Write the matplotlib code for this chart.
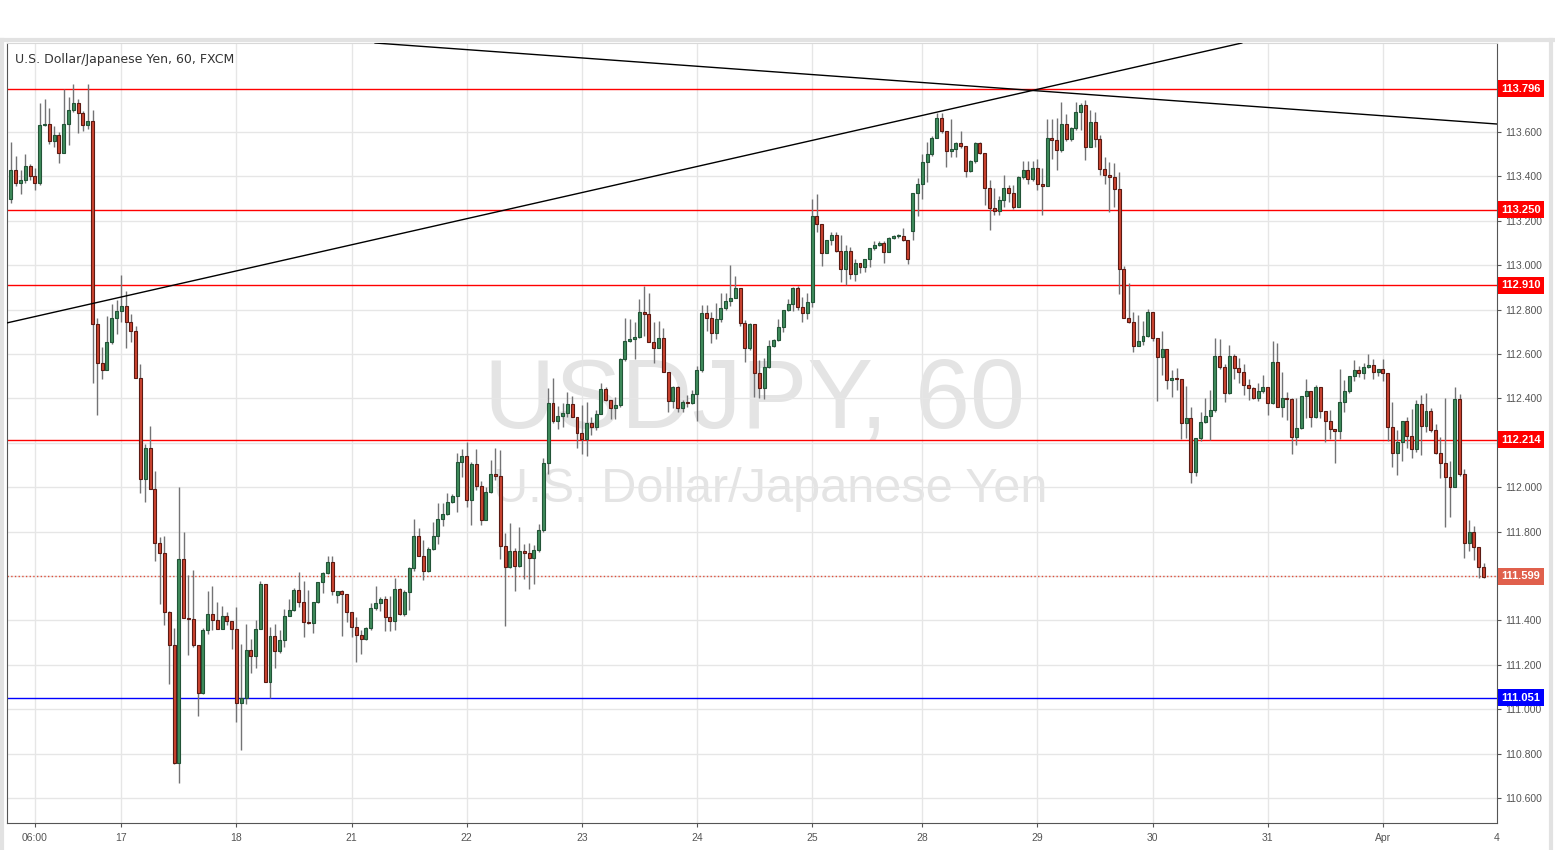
import numpy as np
import matplotlib
matplotlib.use("Agg")
import matplotlib.pyplot as plt
from matplotlib.transforms import blended_transform_factory
from matplotlib.lines import Line2D

# hourly USDJPY candles, first candle = Mar 16 01:00
first_open = 113.30
gap_opens = {69: 111.512, 189: 113.155}   # candle number -> open (when it differs from prev close)

closes = [
    # Mar 16
    113.43, 113.37, 113.382, 113.445, 113.40, 113.37, 113.633, 113.635, 113.56, 113.588, 113.507, 113.637,
    113.698, 113.732, 113.687, 113.633, 113.651, 112.737, 112.56, 112.527, 112.654, 112.76, 112.792,
    # Mar 17
    112.815, 112.744, 112.705, 112.493, 112.038, 112.175, 111.993, 111.747, 111.705, 111.439, 111.29, 110.759,
    111.675, 111.412, 111.408, 111.29, 111.074, 111.357, 111.428, 111.402, 111.362, 111.42, 111.398, 111.36,
    # Mar 18
    111.029, 111.049, 111.267, 111.241, 111.36, 111.564, 111.12, 111.33, 111.264, 111.312, 111.42, 111.447,
    111.537, 111.481, 111.394, 111.387, 111.481, 111.571, 111.612, 111.665, 111.534, 111.532, 111.517, 111.436,
    # Mar 21
    111.372, 111.333, 111.318, 111.364, 111.455, 111.477, 111.495, 111.417, 111.395, 111.54, 111.428, 111.527,
    111.638, 111.78, 111.692, 111.624, 111.722, 111.78, 111.856, 111.88, 111.934, 111.961, 112.115, 112.141,
    # Mar 22
    111.94, 112.105, 112.007, 111.85, 111.977, 112.058, 112.05, 111.735, 111.642, 111.713, 111.647, 111.713,
    111.705, 111.68, 111.717, 111.807, 112.108, 112.378, 112.3, 112.321, 112.336, 112.375, 112.318, 112.246,
    # Mar 23
    112.216, 112.288, 112.273, 112.33, 112.441, 112.393, 112.355, 112.37, 112.577, 112.658, 112.667, 112.675,
    112.787, 112.78, 112.655, 112.628, 112.67, 112.52, 112.389, 112.452, 112.355, 112.385, 112.38, 112.418,
    # Mar 24
    112.527, 112.783, 112.76, 112.693, 112.756, 112.805, 112.838, 112.851, 112.896, 112.738, 112.626, 112.735,
    112.513, 112.446, 112.54, 112.636, 112.663, 112.72, 112.798, 112.825, 112.896, 112.81, 112.783, 112.833,
    # Mar 25
    113.222, 113.184, 113.057, 113.114, 113.136, 113.066, 112.982, 113.065, 112.959, 113.008, 112.993, 113.026,
    113.076, 113.091, 113.098, 113.061, 113.124, 113.131, 113.131, 113.113, 113.026, 113.323, 113.364,
    # Mar 28
    113.463, 113.5, 113.571, 113.661, 113.606, 113.516, 113.522, 113.552, 113.537, 113.426, 113.469, 113.549,
    113.504, 113.349, 113.256, 113.245, 113.293, 113.35, 113.326, 113.263, 113.396, 113.429, 113.387, 113.436,
    # Mar 29
    113.364, 113.358, 113.571, 113.564, 113.519, 113.636, 113.568, 113.616, 113.688, 113.721, 113.534, 113.646,
    113.567, 113.435, 113.405, 113.396, 113.342, 112.981, 112.763, 112.745, 112.637, 112.658, 112.681, 112.787,
    # Mar 30
    112.67, 112.585, 112.621, 112.483, 112.49, 112.487, 112.287, 112.31, 112.07, 112.22, 112.292, 112.321,
    112.348, 112.591, 112.54, 112.423, 112.591, 112.535, 112.52, 112.46, 112.445, 112.40, 112.435, 112.453,
    # Mar 31
    112.378, 112.562, 112.36, 112.40, 112.398, 112.228, 112.265, 112.411, 112.433, 112.315, 112.45, 112.343,
    112.30, 112.261, 112.255, 112.382, 112.433, 112.501, 112.528, 112.516, 112.543, 112.55, 112.52, 112.532,
    # Apr 1
    112.513, 112.273, 112.155, 112.205, 112.298, 112.232, 112.171, 112.375, 112.277, 112.343, 112.258, 112.155,
    112.11, 112.047, 112.002, 112.397, 112.058, 111.75, 111.80, 111.732, 111.642, 111.594,
]

highs = [
    113.553, 113.49, 113.43, 113.50, 113.457, 113.44, 113.732, 113.75, 113.71, 113.625, 113.60, 113.792,
    113.758, 113.815, 113.75, 113.695, 113.815, 113.698, 112.76, 112.632, 112.77, 112.827, 112.842,
    112.955, 112.882, 112.78, 112.726, 112.555, 112.194, 112.275, 112.073, 111.774, 111.78, 111.44, 111.364,
    111.999, 111.798, 111.604, 111.627, 111.29, 111.364, 111.532, 111.555, 111.483, 111.465, 111.437, 111.398,
    111.459, 111.293, 111.383, 111.316, 111.402, 111.579, 111.564, 111.372, 111.384, 111.357, 111.45, 111.495,
    111.544, 111.618, 111.577, 111.537, 111.481, 111.571, 111.618, 111.69, 111.69, 111.532, 111.537, 111.517,
    111.436, 111.414, 111.357, 111.372, 111.477, 111.555, 111.507, 111.51, 111.51, 111.59, 111.545, 111.537,
    111.642, 111.856, 111.815, 111.763, 111.73, 111.845, 111.928, 111.928, 111.973, 111.97, 112.156, 112.171,
    112.202, 112.115, 112.172, 112.03, 112.0, 112.122, 112.175, 112.168, 111.792, 111.838, 111.725, 111.822,
    111.743, 111.747, 111.74, 111.834, 112.13, 112.445, 112.49, 112.366, 112.378, 112.427, 112.411, 112.318,
    112.37, 112.385, 112.318, 112.348, 112.468, 112.453, 112.393, 112.407, 112.58, 112.76, 112.756, 112.745,
    112.846, 112.907, 112.873, 112.745, 112.748, 112.715, 112.52, 112.455, 112.455, 112.392, 112.415, 112.437,
    112.545, 112.82, 112.82, 112.79, 112.828, 112.876, 112.873, 113.0, 112.952, 112.896, 112.753, 112.738,
    112.735, 112.573, 112.581, 112.663, 112.666, 112.756, 112.80, 112.846, 112.903, 112.907, 112.855, 112.873,
    113.298, 113.321, 113.184, 113.114, 113.151, 113.151, 113.136, 113.09, 113.08, 113.026, 113.008, 113.026,
    113.076, 113.11, 113.11, 113.11, 113.129, 113.136, 113.14, 113.166, 113.113, 113.323, 113.391,
    113.5, 113.556, 113.582, 113.687, 113.687, 113.606, 113.657, 113.556, 113.606, 113.537, 113.474, 113.557,
    113.557, 113.504, 113.383, 113.346, 113.311, 113.406, 113.361, 113.361, 113.40, 113.469, 113.469, 113.469,
    113.477, 113.436, 113.658, 113.658, 113.661, 113.733, 113.681, 113.624, 113.733, 113.729, 113.744, 113.699,
    113.692, 113.586, 113.489, 113.466, 113.459, 113.421, 112.996, 112.918, 112.79, 112.776, 112.75, 112.803,
    112.787, 112.67, 112.703, 112.621, 112.528, 112.535, 112.487, 112.456, 112.36, 112.22, 112.34, 112.40,
    112.438, 112.67, 112.666, 112.555, 112.64, 112.60, 112.58, 112.553, 112.486, 112.453, 112.471, 112.505,
    112.453, 112.66, 112.648, 112.52, 112.43, 112.40, 112.40, 112.411, 112.487, 112.433, 112.46, 112.45,
    112.343, 112.348, 112.261, 112.532, 112.483, 112.501, 112.573, 112.546, 112.558, 112.60, 112.577, 112.532,
    112.577, 112.513, 112.382, 112.258, 112.298, 112.318, 112.351, 112.393, 112.415, 112.426, 112.355, 112.285,
    112.225, 112.40, 112.118, 112.453, 112.42, 112.082, 111.852, 111.825, 111.73, 111.657,
]

lows = [
    113.28, 113.355, 113.322, 113.37, 113.382, 113.337, 113.36, 113.625, 113.547, 113.532, 113.46, 113.505,
    113.54, 113.69, 113.595, 113.605, 113.612, 112.47, 112.327, 112.489, 112.527, 112.646, 112.69,
    112.744, 112.627, 112.655, 112.49, 111.972, 111.935, 111.99, 111.667, 111.474, 111.379, 111.113, 110.753,
    110.666, 111.41, 111.244, 111.281, 110.97, 111.07, 111.339, 111.357, 111.36, 111.36, 111.378, 111.272,
    110.942, 110.816, 111.023, 111.161, 111.187, 111.36, 111.12, 111.052, 111.187, 111.255, 111.279, 111.42,
    111.44, 111.462, 111.327, 111.385, 111.345, 111.48, 111.522, 111.61, 111.514, 111.48, 111.33, 111.393,
    111.324, 111.214, 111.249, 111.31, 111.357, 111.447, 111.444, 111.354, 111.35, 111.357, 111.425, 111.42,
    111.447, 111.623, 111.69, 111.58, 111.62, 111.715, 111.745, 111.823, 111.875, 111.93, 111.886, 112.045,
    111.91, 111.83, 111.985, 111.83, 111.85, 111.975, 112.033, 111.675, 111.375, 111.635, 111.534, 111.64,
    111.585, 111.54, 111.564, 111.71, 111.8, 112.058, 112.29, 112.261, 112.27, 112.315, 112.315, 112.175,
    112.15, 112.141, 112.235, 112.258, 112.33, 112.39, 112.305, 112.305, 112.36, 112.57, 112.655, 112.577,
    112.67, 112.681, 112.655, 112.56, 112.625, 112.52, 112.34, 112.358, 112.34, 112.34, 112.362, 112.375,
    112.3, 112.52, 112.705, 112.651, 112.666, 112.745, 112.80, 112.816, 112.85, 112.726, 112.566, 112.62,
    112.405, 112.4, 112.396, 112.535, 112.633, 112.66, 112.701, 112.795, 112.794, 112.798, 112.746, 112.756,
    112.813, 113.151, 112.997, 113.055, 113.091, 113.06, 112.926, 112.91, 112.94, 112.93, 112.966, 112.971,
    112.993, 113.07, 113.085, 113.008, 113.06, 113.12, 113.121, 113.11, 113.005, 113.113, 113.223,
    113.298, 113.376, 113.49, 113.571, 113.594, 113.441, 113.486, 113.489, 113.53, 113.399, 113.42, 113.46,
    113.5, 113.271, 113.158, 113.226, 113.226, 113.26, 113.286, 113.252, 113.26, 113.39, 113.366, 113.38,
    113.339, 113.226, 113.355, 113.478, 113.429, 113.511, 113.56, 113.561, 113.609, 113.609, 113.474, 113.531,
    113.534, 113.406, 113.364, 113.241, 113.263, 112.87, 112.76, 112.74, 112.61, 112.635, 112.64, 112.675,
    112.66, 112.39, 112.505, 112.441, 112.408, 112.438, 112.215, 112.22, 112.017, 112.05, 112.21, 112.29,
    112.212, 112.34, 112.531, 112.385, 112.42, 112.486, 112.471, 112.415, 112.393, 112.395, 112.39, 112.423,
    112.325, 112.375, 112.36, 112.315, 112.303, 112.15, 112.19, 112.26, 112.31, 112.273, 112.31, 112.31,
    112.205, 112.216, 112.108, 112.216, 112.34, 112.425, 112.478, 112.498, 112.486, 112.535, 112.486, 112.501,
    112.48, 112.21, 112.093, 112.055, 112.12, 112.175, 112.133, 112.16, 112.145, 112.25, 112.25, 112.15,
    112.04, 111.819, 111.867, 112.0, 112.05, 111.683, 111.714, 111.672, 111.59, 111.59,
]

tick_pos = [6, 24, 48, 72, 96, 120, 144, 168, 191, 215, 239, 263, 287]
tick_labels = ['06:00', '17', '18', '21', '22', '23', '24', '25', '28', '29', '30', '31', 'Apr']

# horizontal levels: (price, line colour, label box colour, style)
levels = [
    (113.796, '#ff0000', '#ff0000', '-'),
    (113.250, '#ff0000', '#ff0000', '-'),
    (112.910, '#ff0000', '#ff0000', '-'),
    (112.214, '#ff0000', '#ff0000', '-'),
    (111.051, '#0000ff', '#0000ff', '-'),
    (111.599, '#e0503c', '#e0604c', ':'),
]

# trend lines (candle number, price)
trend_down = ([76.9, 310.8], [114.001, 113.636])
trend_up = ([0.17, 257.6], [112.740, 114.001])

c = np.array(closes)
h = np.array(highs)
l = np.array(lows)
o = np.r_[first_open, c[:-1]]
for k, v in gap_opens.items():
    o[k - 1] = v
x = np.arange(1, len(c) + 1)
h = np.maximum(h, np.maximum(o, c))
l = np.minimum(l, np.minimum(o, c))

axis_font = 'Liberation Sans'

fig = plt.figure(figsize=(15.55, 8.5), dpi=100)
ax = fig.add_axes([7 / 1555, 1 - 823 / 850, 1490 / 1555, 780 / 850])

ax.set_xlim(0.17, 310.8)
ax.set_ylim(110.487, 114.001)

# watermark
wm = dict(transform=fig.transFigure, ha='center', va='center', color='#e4e4e4',
          family='Liberation Sans', zorder=0.5)
ax.text(754 / 1555, 1 - 402 / 850, 'USDJPY, 60', fontsize=71, **wm)
ax.text(770 / 1555, 1 - 489 / 850, 'U.S. Dollar/Japanese Yen', fontsize=35, **wm)

# levels
for price, lc, bc, ls in levels:
    ax.axhline(price, color=lc, lw=1, ls=ls, zorder=1.5)

# candles
up = c >= o
body_lo = np.minimum(o, c)
body_h = np.maximum(np.abs(c - o), 0.004)
ax.vlines(x, l, h, color='#737375', lw=1, zorder=2)
ax.bar(x[up], body_h[up], bottom=body_lo[up], width=0.62, color='#3f8c5c',
       edgecolor='#225437', linewidth=0.8, zorder=3)
ax.bar(x[~up], body_h[~up], bottom=body_lo[~up], width=0.62, color='#cc4430',
       edgecolor='#5b1a13', linewidth=0.8, zorder=3)

ax.plot(*trend_down, color='black', lw=1, zorder=4)
ax.plot(*trend_up, color='black', lw=1, zorder=4)

# axes styling
ax.grid(True, color='#e6e6e6', lw=1)
ax.set_axisbelow(True)
ax.yaxis.tick_right()
ax.set_yticks(np.round(np.arange(110.6, 113.61, 0.2), 1))
ax.yaxis.set_major_formatter(matplotlib.ticker.FormatStrFormatter('%.3f'))
ax.set_xticks(tick_pos)
ax.set_xticklabels(tick_labels)
ax.tick_params(axis='both', labelsize=7.5, colors='#555555', length=3, width=0.8)
ax.tick_params(axis='y', pad=3)
ax.tick_params(axis='x', pad=4)
for lab in ax.get_xticklabels() + ax.get_yticklabels():
    lab.set_family(axis_font)
ax.text(310.8, -0.013, '4', transform=blended_transform_factory(ax.transData, ax.transAxes),
        ha='center', va='top', fontsize=7.5, color='#555555', family=axis_font, clip_on=False)
for s in ['left', 'bottom', 'right']:
    ax.spines[s].set_color('#555555')
ax.spines['top'].set_color('#d8d8d8')

# price labels on the axis (they cover the nearby tick label, as in the original)
trans = blended_transform_factory(ax.transAxes, ax.transData)
for price, lc, bc, ls in levels:
    ax.text(1.003, price, f'{price:.3f}', transform=trans, ha='left', va='center',
            fontsize=8, color='white', fontweight='bold', family=axis_font,
            clip_on=False, zorder=10,
            bbox=dict(boxstyle='square,pad=0.3', fc=bc, ec='none'))

# header and widget border
fig.text(15 / 1555, 1 - 60 / 850, 'U.S. Dollar/Japanese Yen, 60, FXCM', fontsize=9,
         color='#333333', va='center')
fig.add_artist(Line2D([0, 1], [1 - 40 / 850] * 2, color='#e2e2e2', lw=3, transform=fig.transFigure))
fig.add_artist(Line2D([1551 / 1555] * 2, [0, 1 - 40 / 850], color='#e2e2e2', lw=3, transform=fig.transFigure))
fig.add_artist(Line2D([2 / 1555] * 2, [0, 1 - 40 / 850], color='#e2e2e2', lw=3, transform=fig.transFigure))

fig.savefig('out.png', dpi=100)
